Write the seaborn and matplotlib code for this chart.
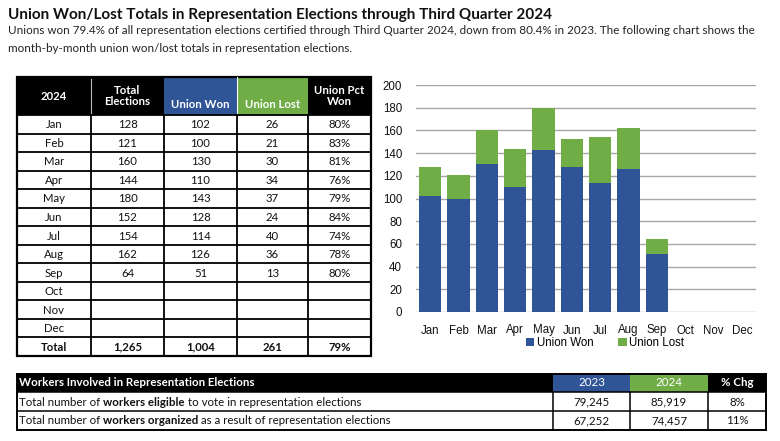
import matplotlib
matplotlib.use("Agg")
import matplotlib.pyplot as plt
from matplotlib.patches import Rectangle, Patch
import seaborn as sns
import pandas as pd

# ---------------- data ----------------
months = ['Jan', 'Feb', 'Mar', 'Apr', 'May', 'Jun', 'Jul', 'Aug', 'Sep', 'Oct', 'Nov', 'Dec']
total_elections = [128, 121, 160, 144, 180, 152, 154, 162, 64]
union_won = [102, 100, 130, 110, 143, 128, 114, 126, 51]
union_lost = [26, 21, 30, 34, 37, 24, 40, 36, 13]
pct_won = ['80%', '83%', '81%', '76%', '79%', '84%', '74%', '78%', '80%']
total_row = ['Total', '1,265', '1,004', '261', '79%']
table_headers = ['2024', 'Total\nElections', 'Union Won', 'Union Lost', 'Union Pct\nWon']

workers_title = 'Workers Involved in Representation Elections'
workers_years = ['2023', '2024', '% Chg']
workers_rows = [
    [('Total number of ', 'normal'), ('workers eligible', 'bold'), (' to vote in representation elections', 'normal')],
    [('Total number of ', 'normal'), ('workers organized', 'bold'), (' as a result of representation elections', 'normal')],
]
workers_2023 = ['79,245', '67,252']
workers_2024 = ['85,919', '74,457']
workers_chg = ['8%', '11%']

title = 'Union Won/Lost Totals in Representation Elections through Third Quarter 2024'
subtitle = ['Unions won 79.4% of all representation elections certified through Third Quarter 2024, down from 80.4% in 2023. The following chart shows the',
            'month-by-month union won/lost totals in representation elections.']

BLUE = '#2F5597'
GREEN = '#70AD47'
TFONT = 'Lato'
CFONT = 'Liberation Sans'

W, H = 780, 441
fig = plt.figure(figsize=(W / 100, H / 100), dpi=100)
bg = fig.add_axes([0, 0, 1, 1])
bg.set_xlim(0, W)
bg.set_ylim(H, 0)
bg.axis('off')
renderer = fig.canvas.get_renderer()

# ---------------- titles ----------------
bg.text(8, 15, title, fontsize=11, fontweight='bold', family=TFONT, va='center', ha='left', color='#111111')
bg.text(8, 31, subtitle[0], fontsize=8.4, family=TFONT, va='center', ha='left', color='#222222')
bg.text(8, 48, subtitle[1], fontsize=8.4, family=TFONT, va='center', ha='left', color='#222222')

# ---------------- left table ----------------
cx = [17, 91, 164, 237, 308, 371]
hy0, hy1 = 77, 115
nrows = 13
rh = (356 - hy1) / nrows
hfills = ['black', 'black', BLUE, GREEN, 'black']
for i in range(5):
    bg.add_patch(Rectangle((cx[i], hy0), cx[i + 1] - cx[i], hy1 - hy0, facecolor=hfills[i], edgecolor='none'))
bg.plot([91, 91], [hy0 + 2, hy1], color='#BBBBBB', lw=0.8)
bg.plot([237, 237], [hy0, hy1], color='white', lw=0.8)
for i, h in enumerate(table_headers):
    xc = (cx[i] + cx[i + 1]) / 2
    yc = 96 if '\n' in h or i == 0 else 104
    bg.text(xc, yc, h, fontsize=8.2, fontweight='bold', family=TFONT, color='white',
            ha='center', va='center', linespacing=1.05)

rows = []
for m in range(12):
    if m < len(total_elections):
        rows.append([months[m], str(total_elections[m]), str(union_won[m]), str(union_lost[m]), pct_won[m]])
    else:
        rows.append([months[m], '', '', '', ''])
rows.append(total_row)
for r, row in enumerate(rows):
    yc = hy1 + rh * (r + 0.5)
    for i, v in enumerate(row):
        xc = (cx[i] + cx[i + 1]) / 2
        bg.text(xc, yc + 0.5, v, fontsize=8.2, family=TFONT, ha='center', va='center',
                fontweight='bold' if r == 12 else 'normal', color='#111111')
# grid lines
for r in range(1, nrows):
    y = hy1 + rh * r
    bg.plot([cx[0], cx[-1]], [y, y], color='black', lw=1.3)
for x in cx[1:-1]:
    bg.plot([x, x], [hy1, 356], color='black', lw=1.3)
bg.add_patch(Rectangle((cx[0], hy0), cx[-1] - cx[0], 356 - hy0, facecolor='none', edgecolor='black', lw=1.6))
bg.plot([cx[0], cx[-1]], [hy1, hy1], color='black', lw=1.3)

# ---------------- bottom table ----------------
bx = [17, 553, 630, 708, 766]
by = [374, 392, 411, 430]
bfills = ['black', BLUE, GREEN, 'black']
for i in range(4):
    bg.add_patch(Rectangle((bx[i], by[0]), bx[i + 1] - bx[i], by[1] - by[0], facecolor=bfills[i], edgecolor='none'))
bg.text(19, (by[0] + by[1]) / 2, workers_title, fontsize=8.3, fontweight='bold', family=TFONT,
        color='white', ha='left', va='center')
for i, lab in enumerate(workers_years):
    bg.text((bx[i + 1] + bx[i + 2]) / 2, (by[0] + by[1]) / 2, lab, fontsize=8.3, family=TFONT, color='white',
            ha='center', va='center', fontweight='bold' if i == 2 else 'normal')


def seg_width(s, weight, size):
    t1 = bg.text(0, 0, 'x' + s + 'x', fontsize=size, fontweight=weight, family=TFONT)
    t2 = bg.text(0, 0, 'xx', fontsize=size, fontweight=weight, family=TFONT)
    w = t1.get_window_extent(renderer).width - t2.get_window_extent(renderer).width
    t1.remove()
    t2.remove()
    return w


for r in range(2):
    yc = (by[r + 1] + by[r + 2]) / 2 + 0.5
    x = 19
    for s, wgt in workers_rows[r]:
        bg.text(x, yc, s, fontsize=8.3, fontweight=wgt, family=TFONT, ha='left', va='center', color='#111111')
        x += seg_width(s, wgt, 8.3)
    for i, v in enumerate([workers_2023[r], workers_2024[r], workers_chg[r]]):
        bg.text((bx[i + 1] + bx[i + 2]) / 2, yc, v, fontsize=8.3, family=TFONT, ha='center', va='center',
                color='#111111')
for y in by[1:3]:
    bg.plot([bx[0], bx[-1]], [y, y], color='black', lw=1.1)
for x in bx[1:-1]:
    bg.plot([x, x], [by[1], by[-1]], color='black', lw=1.1)
bg.add_patch(Rectangle((bx[0], by[0]), bx[-1] - bx[0], by[-1] - by[0], facecolor='none', edgecolor='black', lw=1.4))

# ---------------- bar chart ----------------
ax = fig.add_axes([416 / W, (H - 312) / H, 340 / W, 227 / H])
df = pd.DataFrame({'month': months[:len(total_elections)], 'total': total_elections, 'won': union_won})
sns.barplot(data=df, x='month', y='total', order=months, color=GREEN, saturation=1, width=0.78, ax=ax, zorder=2)
sns.barplot(data=df, x='month', y='won', order=months, color=BLUE, saturation=1, width=0.78, ax=ax, zorder=3)
ax.set_xlim(-0.5, 11.5)
ax.set_ylim(0, 200)
ax.set_yticks(range(0, 201, 20))
ax.set_xlabel('')
ax.set_ylabel('')
ax.yaxis.grid(True, color='#A6A6A6', lw=1)
ax.set_axisbelow(True)
for s in ax.spines.values():
    s.set_visible(False)
ax.tick_params(axis='both', length=0, labelsize=8.3, colors='#111111')
ax.tick_params(axis='y', pad=10)
ax.tick_params(axis='x', pad=9)
for lab in ax.get_xticklabels() + ax.get_yticklabels():
    lab.set_family(CFONT)
ax.patch.set_alpha(0)

handles = [Patch(facecolor=BLUE, label='Union Won'), Patch(facecolor=GREEN, label='Union Lost')]
fig.legend(handles=handles, loc='center', bbox_to_anchor=(605 / W, 1 - 343 / H), ncol=2, frameon=False,
           handlelength=0.7, handleheight=0.7, handletextpad=0.25, columnspacing=2.2,
           prop={'family': CFONT, 'size': 8.3})

fig.savefig('out.png', dpi=100)
